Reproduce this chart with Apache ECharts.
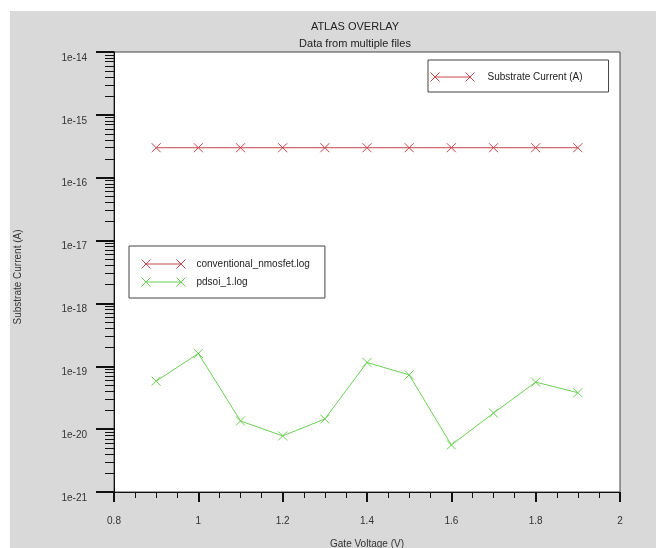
<!DOCTYPE html>
<html>
<head>
<meta charset="utf-8">
<title>ATLAS OVERLAY</title>
<script src="https://cdn.jsdelivr.net/npm/echarts@6/dist/echarts.min.js"></script>
<style>
  html, body { margin: 0; padding: 0; background: #ffffff; }
  #chart { width: 656px; height: 548px; }
</style>
</head>
<body>
<div id="chart"></div>
<script>
// Gate voltage sweep points (V)
const gateVoltage = [0.9, 1.0, 1.1, 1.2, 1.3, 1.4, 1.5, 1.6, 1.7, 1.8, 1.9];
// Substrate current (A) per log file
const conventionalNmosfet = [3.0e-16, 3.0e-16, 3.0e-16, 3.0e-16, 3.0e-16, 3.0e-16, 3.0e-16, 3.0e-16, 3.0e-16, 3.0e-16, 3.0e-16];
const pdsoi1 = [5.8e-20, 1.6e-19, 1.35e-20, 7.8e-21, 1.45e-20, 1.15e-19, 7.3e-20, 5.6e-21, 1.8e-20, 5.6e-20, 3.8e-20];

const seriesNames = ['conventional_nmosfet.log', 'pdsoi_1.log'];
const quantityName = 'Substrate Current (A)';

// Axis ranges
const xMin = 0.8, xMax = 2.0, xStep = 0.2;
const yMinExp = -21, yMaxExp = -14;

const RED = '#c8464b';
const GREEN = '#6ccf55';
const FONT = '"Liberation Sans", Arial, Helvetica, sans-serif';

// Decade (major) and 2..9 (minor) tick values for the log axis
const decades = [];
const minorLog = [];
for (let e = yMinExp; e <= yMaxExp; e++) {
  decades.push(Math.pow(10, e));
  if (e < yMaxExp) {
    for (let m = 2; m <= 9; m++) minorLog.push(m * Math.pow(10, e));
  }
}

const pairs = (xs, ys) => xs.map((x, i) => [x, ys[i]]);

// Cross marker, and a legend swatch with a cross at each end of a line
const crossSymbol = 'path://M0,0L10,10M10,0L0,10';
const legendIcon = 'path://M4.5,4.5L39.5,4.5M0,0L9,9M9,0L0,9M35,0L44,9M44,0L35,9';

const chart = echarts.init(document.getElementById('chart'), null, { renderer: 'canvas' });

const lineSeries = (name, color, data) => ({
  name: name,
  type: 'line',
  data: data,
  symbol: crossSymbol,
  symbolSize: 9,
  showSymbol: true,
  lineStyle: { color: color, width: 1 },
  itemStyle: { color: color, borderColor: color, borderWidth: 1 },
  emphasis: { disabled: true },
  animation: false
});

const legendCommon = {
  icon: legendIcon,
  itemWidth: 44,
  itemHeight: 9,
  backgroundColor: '#ffffff',
  borderColor: '#444444',
  borderWidth: 1,
  borderRadius: 0,
  selectedMode: false,
  itemStyle: { borderWidth: 1 }
};

const legendText = (padLeft) => ({
  fontFamily: FONT, fontSize: 10, color: '#222222',
  lineHeight: 12, padding: [10, 0, 0, padLeft]
});

chart.setOption({
  backgroundColor: '#ffffff',
  animation: false,
  textStyle: { fontFamily: FONT },
  graphic: [{
    type: 'rect',
    left: 10, top: 11,
    shape: { width: 646, height: 537 },
    style: { fill: '#d9d9d9' },
    z: -10,
    silent: true
  }],
  title: [
    { text: 'ATLAS OVERLAY', left: 350, top: 16, textAlign: 'center',
      textStyle: { fontFamily: FONT, fontSize: 11, fontWeight: 'normal', color: '#222222' } },
    { text: 'Data from multiple files', left: 350, top: 33, textAlign: 'center',
      textStyle: { fontFamily: FONT, fontSize: 11, fontWeight: 'normal', color: '#222222' } }
  ],
  legend: [
    Object.assign({}, legendCommon, {
      data: [quantityName],
      left: 428, top: 60,
      padding: [6, 26, 4, 2],
      textStyle: legendText(8)
    }),
    Object.assign({}, legendCommon, {
      data: seriesNames,
      orient: 'vertical',
      left: 129, top: 246,
      itemGap: -4,
      padding: [7, 15, 5, 12],
      textStyle: legendText(6)
    })
  ],
  grid: {
    left: 114, top: 52, width: 506, height: 440,
    show: true,
    backgroundColor: '#ffffff',
    borderColor: '#444444',
    borderWidth: 1,
    containLabel: false,
    outerBoundsMode: 'none'
  },
  xAxis: {
    type: 'value',
    min: xMin, max: xMax, interval: xStep,
    name: 'Gate Voltage (V)',
    nameLocation: 'middle',
    nameGap: 47,
    nameTextStyle: { fontFamily: FONT, fontSize: 10, color: '#333333' },
    axisLine: { show: true, lineStyle: { color: '#111111', width: 1 } },
    axisTick: { show: true, inside: false, length: 10, lineStyle: { color: '#111111', width: 2 } },
    minorTick: { show: true, splitNumber: 4, length: 6, lineStyle: { color: '#111111', width: 1 } },
    axisLabel: { fontFamily: FONT, fontSize: 10, color: '#333333', margin: 24 },
    splitLine: { show: false },
    minorSplitLine: { show: false }
  },
  yAxis: [
    {
      type: 'log',
      logBase: 10,
      min: Math.pow(10, yMinExp), max: Math.pow(10, yMaxExp),
      name: quantityName,
      nameLocation: 'middle',
      nameGap: 91,
      nameTextStyle: { fontFamily: FONT, fontSize: 10, color: '#333333', padding: [0, 10, 0, 0] },
      axisLine: { show: true, lineStyle: { color: '#111111', width: 1 } },
      axisTick: { show: true, inside: false, length: 18, customValues: decades,
        lineStyle: { color: '#111111', width: 2 } },
      axisLabel: {
        fontFamily: FONT, fontSize: 10, color: '#333333', margin: 27,
        verticalAlign: 'top', lineHeight: 12,
        customValues: decades,
        formatter: v => '1e' + Math.round(Math.log10(v))
      },
      splitLine: { show: false }
    },
    {
      // Minor log ticks (2..9 within each decade)
      type: 'log',
      logBase: 10,
      position: 'left',
      min: Math.pow(10, yMinExp), max: Math.pow(10, yMaxExp),
      axisLine: { show: false },
      axisTick: { show: true, inside: false, length: 9, customValues: minorLog,
        lineStyle: { color: '#111111', width: 1 } },
      axisLabel: { show: false },
      splitLine: { show: false }
    }
  ],
  series: [
    lineSeries(seriesNames[0], RED, pairs(gateVoltage, conventionalNmosfet)),
    lineSeries(seriesNames[1], GREEN, pairs(gateVoltage, pdsoi1)),
    lineSeries(quantityName, RED, [])
  ]
});
</script>
</body>
</html>
